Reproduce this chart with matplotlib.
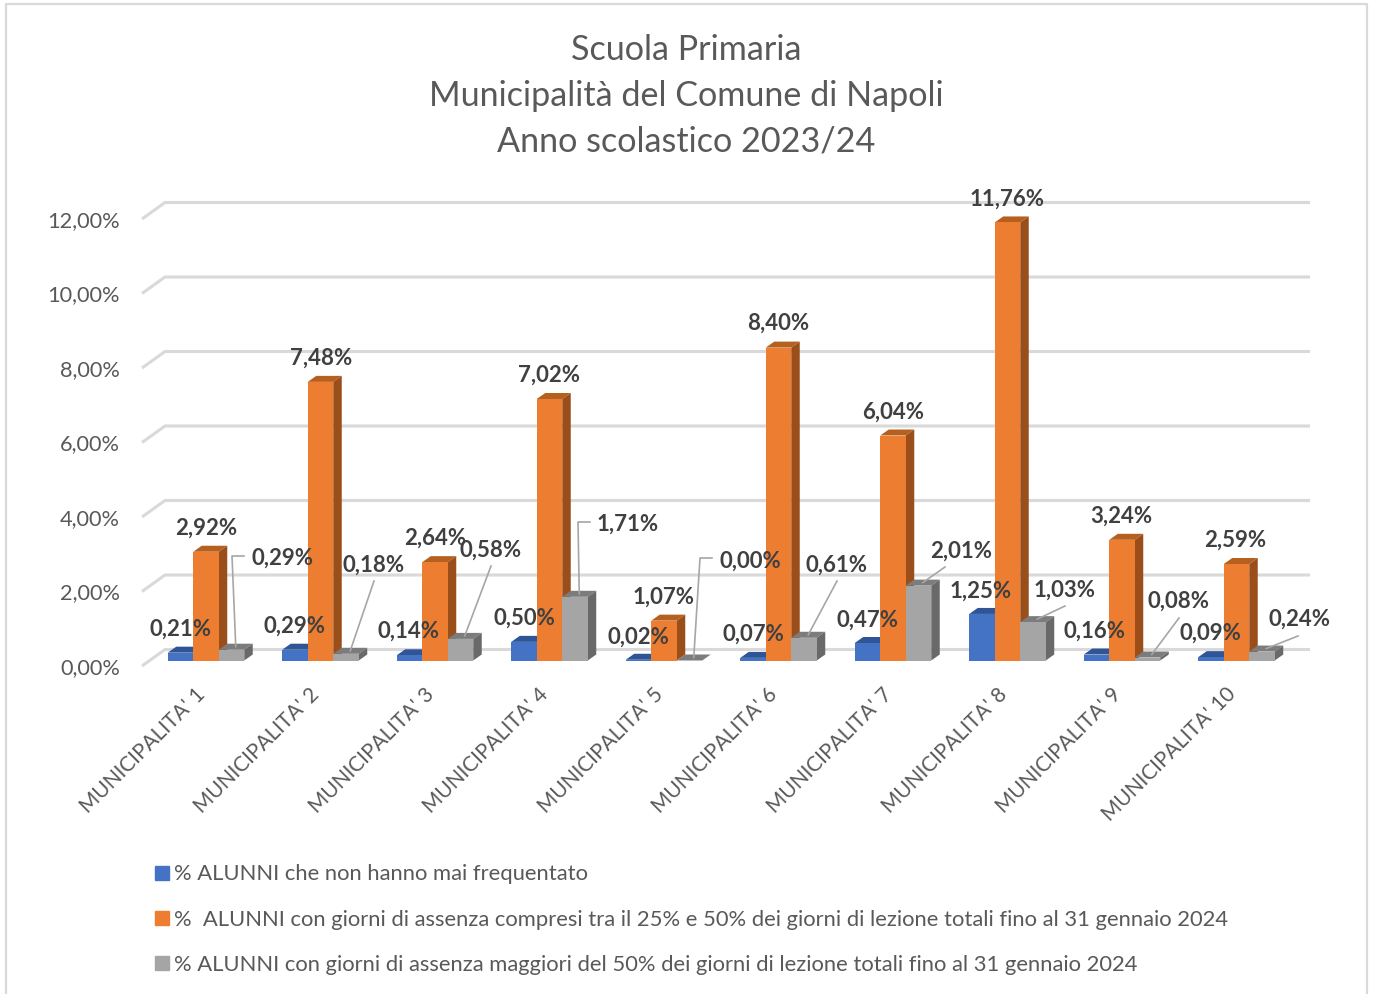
import matplotlib
matplotlib.use('Agg')
import matplotlib.pyplot as plt
from matplotlib.patches import Patch, Polygon

plt.rcParams['font.family'] = ['Lato', 'DejaVu Sans']

# Data
categories = ["MUNICIPALITA' 1", "MUNICIPALITA' 2", "MUNICIPALITA' 3", "MUNICIPALITA' 4", "MUNICIPALITA' 5",
              "MUNICIPALITA' 6", "MUNICIPALITA' 7", "MUNICIPALITA' 8", "MUNICIPALITA' 9", "MUNICIPALITA' 10"]
mai_frequentato = [0.21, 0.29, 0.14, 0.50, 0.02, 0.07, 0.47, 1.25, 0.16, 0.09]
assenza_25_50 = [2.92, 7.48, 2.64, 7.02, 1.07, 8.40, 6.04, 11.76, 3.24, 2.59]
assenza_oltre_50 = [0.29, 0.18, 0.58, 1.71, 0.00, 0.61, 2.01, 1.03, 0.08, 0.24]
y_ticks = [0, 2, 4, 6, 8, 10, 12]
legend_labels = ['% ALUNNI che non hanno mai frequentato',
                 '%  ALUNNI con giorni di assenza compresi tra il 25% e 50% dei giorni di lezione totali fino al 31 gennaio 2024',
                 '% ALUNNI con giorni di assenza maggiori del 50% dei giorni di lezione totali fino al 31 gennaio 2024']
title = 'Scuola Primaria\nMunicipalità del Comune di Napoli\nAnno scolastico 2023/24'

# Layout, in pixels of the picture
W, H = 1373, 994
X0, X_STEP = 206, 114.5
Y0, Y_STEP = 660.5, 37.25

# colours: front, top, side
blue = ('#4472C4', '#2F5597', '#2A4D88')
orange = ('#ED7D31', '#B5601F', '#9A4F1B')
grey = ('#A5A5A5', '#7C7C7C', '#696969')

fig = plt.figure(figsize=(W / 100, H / 100), dpi=100)
ax = fig.add_axes([0, 0, 1, 1])
ax.set_xlim(-X0 / X_STEP, (W - X0) / X_STEP)
ax.set_ylim((Y0 - H) / Y_STEP, Y0 / Y_STEP)
ax.axis('off')


def px(x, y):
    # picture pixel -> data coordinates
    return (x - X0) / X_STEP, (Y0 - y) / Y_STEP


bar_w = 25.5 / X_STEP
dx = 8.5 / X_STEP
dy = 6 / Y_STEP


def bar3d(x, v, cols, z):
    ax.add_patch(Polygon([(x, v), (x + dx, v + dy), (x + bar_w + dx, v + dy), (x + bar_w, v)], fc=cols[1], ec='none', zorder=z))
    ax.add_patch(Polygon([(x + bar_w, 0), (x + bar_w + dx, dy), (x + bar_w + dx, v + dy), (x + bar_w, v)], fc=cols[2], ec='none', zorder=z))
    ax.add_patch(Polygon([(x, 0), (x + bar_w, 0), (x + bar_w, v), (x, v)], fc=cols[0], ec='none', zorder=z + 0.1))


# chart frame
ax.plot(*zip(px(6, 994), px(6, 4), px(1367, 4), px(1367, 994)), color='#D9D9D9', lw=1.6, zorder=0)

# gridlines on the back wall with the step on the left
wall_x, wall_y = px(165, 649.5)
front_x, front_y = px(142, 666)
for t in y_ticks:
    ax.plot([front_x, wall_x, px(1310, 0)[0]], [t + front_y, t + wall_y, t + wall_y], color='#D9D9D9', lw=2.2, zorder=1,
            solid_joinstyle='miter', solid_capstyle='butt')
    lx, ly = px(120, 0)
    ax.text(lx, t + front_y - 0.05, f'{t:.2f}%'.replace('.', ','), ha='right', va='center', fontsize=15.7, color='#595959')

# bars
for i in range(len(categories)):
    bar3d(i - 1.5 * bar_w, mai_frequentato[i], blue, 2 + i)
    bar3d(i - 0.5 * bar_w, assenza_25_50[i], orange, 2.3 + i)
    bar3d(i + 0.5 * bar_w, assenza_oltre_50[i], grey, 2.6 + i)

# leader lines for the grey series (end points of each one)
leaders = [[(232, 556), (244, 556)], [(374, 581)], [(491, 566)], [(578, 522), (590, 522)], [(700, 558), (712, 558)],
           [(837, 581)], [(945, 567)], [(1065, 606)], [(1179, 618)], [(1298, 636)]]
for i, pts in enumerate(leaders):
    sx = i + 0.5 * bar_w + (bar_w + dx) / 2
    sy = assenza_oltre_50[i] + dy / 2
    xs, ys = zip(*[(sx, sy)] + [px(*p) for p in pts])
    ax.plot(xs, ys, color='#A6A6A6', lw=1.2, zorder=20)

# data labels
pos_blue = [(181, 629), (295, 626), (409, 631), (524, 618), (638, 637), (753, 634), (867, 620), (981, 591), (1095, 631), (1210, 633)]
pos_orange = [(206, 528), (321, 358), (435, 538), (549, 375), (664, 597), (778, 323), (893, 412), (1007, 199), (1121, 516), (1235, 540)]
pos_grey = [(282, 558), (374, 565), (491, 550), (628, 524), (750, 561), (837, 565), (961, 551), (1065, 590), (1179, 601), (1299, 619)]
for vals, pos in [(mai_frequentato, pos_blue), (assenza_25_50, pos_orange), (assenza_oltre_50, pos_grey)]:
    for v, p in zip(vals, pos):
        x, y = px(*p)
        ax.text(x, y, f'{v:.2f}%'.replace('.', ','), ha='center', va='center', fontsize=16, fontweight='bold', color='#404040', zorder=30)

# category labels
for i, c in enumerate(categories):
    x, y = px(X0 + i * X_STEP - 11, 684)
    ax.text(x, y, c, rotation=45, ha='right', va='top', rotation_mode='anchor', fontsize=15, color='#595959')

# title
for line, py in zip(title.split('\n'), [50.5, 95.5, 141.5]):
    x, y = px(686, py)
    ax.text(x, y, line, ha='center', va='center', fontsize=24.6, color='#595959')

# legend
handles = [Patch(color=c[0]) for c in (blue, orange, grey)]
leg = ax.legend(handles, legend_labels, loc='upper left', bbox_to_anchor=(155 / W, 1 - 864.5 / H), frameon=False,
                fontsize=15.8, labelcolor='#595959', handlelength=0.64, handleheight=0.64, handletextpad=0.23,
                labelspacing=1.146, borderpad=0, borderaxespad=0)

fig.savefig('out.png', dpi=100)
